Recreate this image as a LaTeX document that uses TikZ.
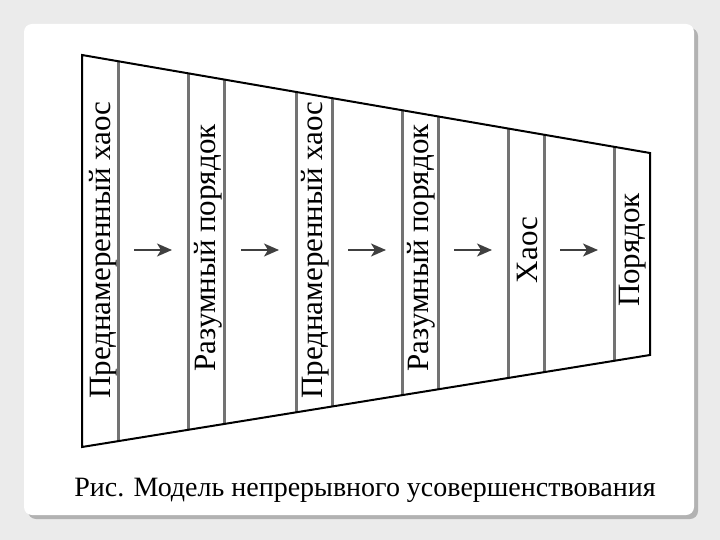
\documentclass[tikz,border=0pt]{standalone}
\usepackage{fontspec}
\setmainfont{Liberation Serif}
\usetikzlibrary{arrows.meta}
\begin{document}
\begin{tikzpicture}[x=1pt,y=-1pt,
  lbl/.style={rotate=90,font=\fontsize{31}{31}\selectfont,inner sep=0pt},
  sep/.style={draw=black!55,line width=3pt},
  flow/.style={draw=black!75,line width=1.6pt,-{Stealth[length=15pt,width=13pt,inset=4pt]}}]
\useasboundingbox (0,0) rectangle (720,540);
\fill[black!8] (0,0) rectangle (720,540);
\fill[black!30,rounded corners=8pt] (28,28) rectangle (698,519);
\fill[white,rounded corners=8pt] (24,24) rectangle (694,515);
% trapezoid
\begin{scope}
\clip (82,55) -- (650,153) -- (650,355) -- (82,447) -- cycle;
\foreach \x in {118,188,224,296,332,402,438,508,544,614}
  \draw[sep] (\x,0) -- (\x,540);
\end{scope}
\draw[black,line width=2pt] (82,55) -- (650,153) -- (650,355) -- (82,447) -- cycle;
\node[lbl] (t1) at (103,250) {Преднамеренный хаос};
\node[lbl] (t2) at (208,248) {Разумный порядок};
\node[lbl] (t3) at (315,250) {Преднамеренный хаос};
\node[lbl] (t4) at (421,248) {Разумный порядок};
\node[lbl] (t5) at (527,250) {Хаос};
\node[lbl] (t6) at (633,250) {Порядок};
\foreach \c [count=\i] in {153,260,367,473,579}{
  \coordinate (a\i) at (\c-19,250);
  \coordinate (b\i) at (\c+19,250);
  \draw[flow] (a\i) -- (b\i);
}
\node[font=\fontsize{28}{28}\selectfont,inner sep=0pt] (cap) at (365,490) {Рис. Модель непрерывного усовершенствования};
\end{tikzpicture}
\end{document}
